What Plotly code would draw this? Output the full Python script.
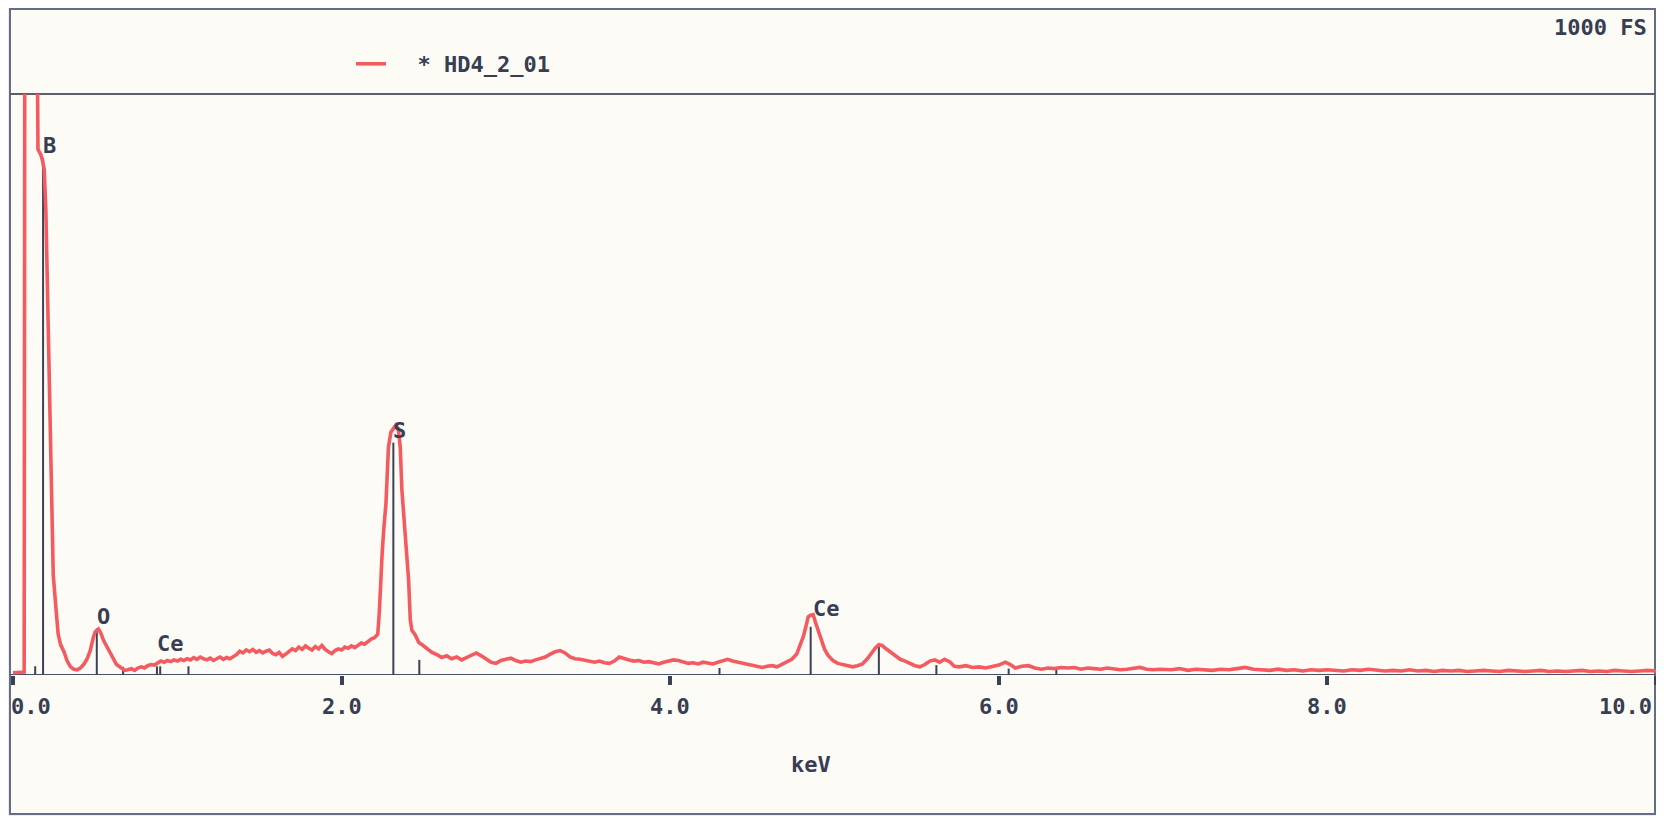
import plotly.graph_objects as go

# ---------------- data ----------------
series_name = "* HD4_2_01"
full_scale_text = "1000 FS"
x_title = "keV"

tick_values = [0, 2, 4, 6, 8, 10]
tick_labels = ["0.0", "2.0", "4.0", "6.0", "8.0", "10.0"]

# spectrum segments: energy (keV) and counts
energy_low = [0.00, 0.04, 0.068, 0.072, 0.145, 0.152, 0.17, 0.18, 0.19, 0.20,
              0.21, 0.222, 0.23, 0.236, 0.245, 0.26, 0.275, 0.29, 0.31, 0.33,
              0.35, 0.37, 0.39, 0.41, 0.43, 0.45, 0.47, 0.49, 0.50, 0.52,
              0.535, 0.55, 0.57, 0.60, 0.63, 0.66, 0.68]
counts_low = [4, 5, 5, 1200, 1200, 905, 895, 885, 870, 800,
              660, 560, 390, 300, 172, 120, 70, 52, 40, 24,
              14, 10, 9, 12, 18, 27, 42, 66, 74, 79,
              72, 60, 50, 32, 18, 12, 8]

energy_bg1 = [0.70, 0.72, 0.74, 0.76, 0.78, 0.80, 0.82, 0.84, 0.86, 0.88,
              0.90, 0.92, 0.94, 0.96, 0.98, 1.00, 1.02, 1.04, 1.06, 1.08,
              1.10, 1.12, 1.14, 1.16, 1.18, 1.20, 1.22, 1.24, 1.26, 1.28,
              1.30, 1.32, 1.34, 1.36, 1.38, 1.40, 1.42, 1.44, 1.46, 1.48,
              1.50, 1.52, 1.54, 1.56, 1.58, 1.60, 1.62, 1.64, 1.66, 1.68,
              1.70, 1.72, 1.74, 1.76, 1.78, 1.80, 1.82, 1.84, 1.86, 1.88,
              1.90, 1.92, 1.94, 1.96, 1.98, 2.00, 2.02, 2.04, 2.06, 2.08,
              2.10, 2.12, 2.14, 2.16, 2.18, 2.20]
counts_bg1 = [9, 11, 8, 12, 14, 12, 16, 18, 17, 21,
              24, 22, 25, 23, 26, 24, 27, 25, 28, 26,
              30, 27, 31, 28, 26, 29, 25, 28, 31, 27,
              30, 28, 31, 35, 41, 38, 43, 40, 44, 39,
              42, 38, 41, 43, 37, 35, 39, 32, 36, 41,
              45, 42, 48, 44, 50, 46, 43, 49, 45, 51,
              44, 40, 37, 42, 45, 43, 48, 46, 50, 47,
              52, 55, 53, 57, 62, 64]

energy_s = [2.22, 2.23, 2.236, 2.246, 2.256, 2.27, 2.285, 2.30, 2.315, 2.33,
            2.345, 2.357, 2.367, 2.378, 2.388, 2.40, 2.408, 2.418, 2.428, 2.448,
            2.47]
counts_s = [70, 110, 163, 205, 249, 295, 392, 418, 424, 430,
            424, 392, 318, 270, 232, 198, 163, 95, 77, 69,
            56]

energy_bg2 = [2.49, 2.52, 2.55, 2.58, 2.61, 2.64, 2.67, 2.70, 2.73, 2.76,
              2.79, 2.82, 2.85, 2.88, 2.91, 2.94, 2.97, 3.00, 3.03, 3.06,
              3.09, 3.12, 3.15, 3.18, 3.21, 3.24, 3.27, 3.30, 3.33, 3.36,
              3.39, 3.42, 3.45, 3.48, 3.51, 3.54, 3.57, 3.60, 3.63, 3.66,
              3.69, 3.72, 3.75, 3.78, 3.81, 3.84, 3.87, 3.90, 3.93, 3.96,
              3.99, 4.02, 4.05, 4.08, 4.11, 4.14, 4.17, 4.20, 4.23, 4.26,
              4.29, 4.32, 4.35, 4.38, 4.41, 4.44, 4.47, 4.50, 4.53, 4.56,
              4.59, 4.62, 4.65]
counts_bg2 = [52, 45, 39, 35, 30, 33, 28, 31, 26, 30,
              34, 38, 33, 27, 22, 20, 25, 27, 29, 25,
              22, 24, 23, 26, 29, 31, 36, 40, 42, 38,
              31, 28, 27, 25, 24, 22, 24, 21, 20, 24,
              31, 28, 26, 24, 25, 22, 23, 21, 19, 22,
              24, 26, 25, 22, 20, 21, 19, 22, 20, 19,
              22, 25, 27, 24, 22, 20, 18, 16, 14, 13,
              15, 16, 14]

energy_ce = [4.68, 4.71, 4.74, 4.77, 4.79, 4.81, 4.83, 4.84, 4.855, 4.87,
             4.885, 4.90, 4.92, 4.94, 4.96, 4.99, 5.02, 5.05, 5.08, 5.11,
             5.14, 5.17, 5.20, 5.23, 5.25, 5.27, 5.29, 5.31, 5.34, 5.37,
             5.40, 5.43, 5.46]
counts_ce = [18, 22, 27, 36, 50, 66, 88, 100, 103, 104,
             90, 78, 60, 44, 34, 25, 20, 18, 16, 14,
             16, 19, 28, 40, 47, 52, 51, 46, 40, 33,
             27, 24, 20]

energy_bg3 = [5.49, 5.52, 5.55, 5.58, 5.61, 5.64, 5.67, 5.70, 5.73, 5.76,
              5.80, 5.84, 5.88, 5.92, 5.96, 6.00, 6.04, 6.07, 6.10, 6.14,
              6.18, 6.22, 6.26, 6.30, 6.34, 6.38, 6.42, 6.46, 6.50, 6.54,
              6.58, 6.62, 6.66, 6.70, 6.74, 6.78, 6.82, 6.86, 6.90, 6.94,
              6.98]
counts_bg3 = [16, 14, 18, 24, 26, 22, 27, 23, 15, 14,
              16, 13, 14, 12, 14, 17, 22, 18, 12, 15,
              16, 12, 10, 12, 11, 13, 12, 13, 10, 12,
              11, 10, 12, 11, 9, 10, 12, 13, 10, 9,
              10]

energy_tail = [7.02, 7.05, 7.10, 7.15, 7.20, 7.25, 7.30, 7.35, 7.40, 7.45,
               7.50, 7.55, 7.60, 7.65, 7.70, 7.75, 7.80, 7.85, 7.90, 7.95,
               8.00, 8.05, 8.10, 8.15, 8.20, 8.25, 8.30, 8.35, 8.40, 8.45,
               8.50, 8.55, 8.60, 8.65, 8.70, 8.75, 8.80, 8.85, 8.90, 8.95,
               9.00, 9.05, 9.10, 9.15, 9.20, 9.25, 9.30, 9.35, 9.40, 9.45,
               9.50, 9.55, 9.60, 9.65, 9.70, 9.75, 9.80, 9.85, 9.90, 9.95,
               10.00]
counts_tail = [10, 9, 11, 8, 10, 9, 8, 10, 9, 11,
               13, 10, 9, 8, 10, 8, 9, 7, 9, 8,
               9, 8, 7, 9, 8, 10, 8, 7, 8, 7,
               9, 7, 8, 6, 8, 7, 8, 6, 7, 8,
               7, 6, 8, 7, 6, 7, 8, 6, 7, 6,
               7, 8, 6, 7, 6, 8, 7, 6, 7, 8,
               7]

# element marker lines (keV, height in counts)
marker_kev = [0.135, 0.183, 0.51, 0.67, 0.876, 0.896, 1.068, 2.315, 2.473,
              4.30, 4.855, 5.27, 5.62, 6.06, 6.35]
marker_counts = [15, 890, 80, 14, 15, 15, 15, 400, 26,
                 12, 83, 49, 17, 11, 14]

# element labels
label_text = ["B", "O", "Ce", "S", "Ce"]
label_kev = [0.183, 0.51, 0.876, 2.315, 4.87]
label_counts = [893, 83, 36, 403, 97]

# ---------------- build ----------------
energy = (energy_low + energy_bg1 + energy_s + energy_bg2 + energy_ce
          + energy_bg3 + energy_tail)
counts = (counts_low + counts_bg1 + counts_s + counts_bg2 + counts_ce
          + counts_bg3 + counts_tail)

# the page body adds an 8 px offset; figure sized so that no scrollbars appear
OFF = 8
W, H = 1648, 808
ML, MR, MT, MB = 5, 0, 86, 141
PW, PH = W - ML - MR, H - MT - MB


def px_x(sx):
    """screen x -> paper x"""
    return (sx - OFF - ML) / PW


def px_y(sy):
    """screen y -> paper y"""
    return (H - MB - (sy - OFF)) / PH


FONT = "DejaVu Sans Mono"
TXT = "#373d52"
FRAME = "#646d84"
RED = "#f35b60"
FS = 22

fig = go.Figure()

mx, my = [], []
for e, h in zip(marker_kev, marker_counts):
    mx += [e, e, None]
    my += [0, h, None]
fig.add_trace(go.Scatter(x=mx, y=my, mode="lines",
                         line=dict(color="#3c4156", width=2),
                         showlegend=False, hoverinfo="skip"))

fig.add_trace(go.Scatter(x=energy, y=counts, mode="lines",
                         name="\u00a0\u00a0" + series_name,
                         line=dict(color=RED, width=3.6)))

shapes = [
    # outer frame
    dict(type="rect", xref="paper", yref="paper",
         x0=px_x(10), x1=px_x(1655), y0=px_y(814), y1=px_y(9),
         line=dict(color=FRAME, width=2), fillcolor="#fdfbf5", layer="below"),
    # divider between legend panel and plot
    dict(type="line", xref="paper", yref="paper",
         x0=px_x(10), x1=px_x(1655), y0=1, y1=1,
         line=dict(color="#5a5f6e", width=2), layer="below"),
    # energy axis baseline
    dict(type="line", xref="paper", yref="y",
         x0=px_x(10), x1=px_x(1655), y0=0, y1=0,
         line=dict(color="#4a5064", width=2), layer="below"),
]

annotations = []
for v, t in zip(tick_values, tick_labels):
    if v == tick_values[0]:
        anchor, xs = "left", -4
    elif v == tick_values[-1]:
        anchor, xs = "right", -2
    else:
        anchor, xs = "center", 0
    annotations.append(dict(
        x=v, xref="x", y=px_y(706), yref="paper", text="<b>%s</b>" % t,
        showarrow=False, xanchor=anchor, xshift=xs, yanchor="middle",
        font=dict(family=FONT, size=FS, color=TXT)))
annotations.append(dict(
    x=px_x(811), xref="paper", y=px_y(764), yref="paper",
    text="<b>%s</b>" % x_title, showarrow=False, xanchor="center",
    yanchor="middle", font=dict(family=FONT, size=FS, color=TXT)))
annotations.append(dict(
    x=px_x(1649), xref="paper", y=px_y(27), yref="paper",
    text="<b>%s</b>" % full_scale_text, showarrow=False, xanchor="right",
    yanchor="middle", font=dict(family=FONT, size=FS, color=TXT)))
for t, e, c in zip(label_text, label_kev, label_counts):
    annotations.append(dict(
        x=e, xref="x", y=c, yref="y", text="<b>%s</b>" % t,
        showarrow=False, xanchor="left", yanchor="bottom", xshift=-2,
        yshift=-4, font=dict(family=FONT, size=FS, color=TXT)))

fig.update_layout(
    width=W, height=H,
    margin=dict(l=ML, r=MR, t=MT, b=MB),
    paper_bgcolor="#efefea",
    plot_bgcolor="rgba(0,0,0,0)",
    shapes=shapes,
    annotations=annotations,
    showlegend=True,
    legend=dict(x=px_x(351), y=px_y(43), xanchor="left", yanchor="top",
                bgcolor="rgba(0,0,0,0)", borderwidth=0,
                font=dict(family=FONT, size=FS, color=TXT, weight="bold")),
    xaxis=dict(range=[0, 10], showgrid=False, zeroline=False, showline=False,
               tickvals=tick_values, ticks="outside", ticklen=9, tickwidth=4,
               tickcolor="#3a4055", showticklabels=False, fixedrange=True),
    yaxis=dict(range=[0, 1000], showgrid=False, zeroline=False,
               showline=False, showticklabels=False, ticks="",
               fixedrange=True),
)

fig.write_html("out.html")
